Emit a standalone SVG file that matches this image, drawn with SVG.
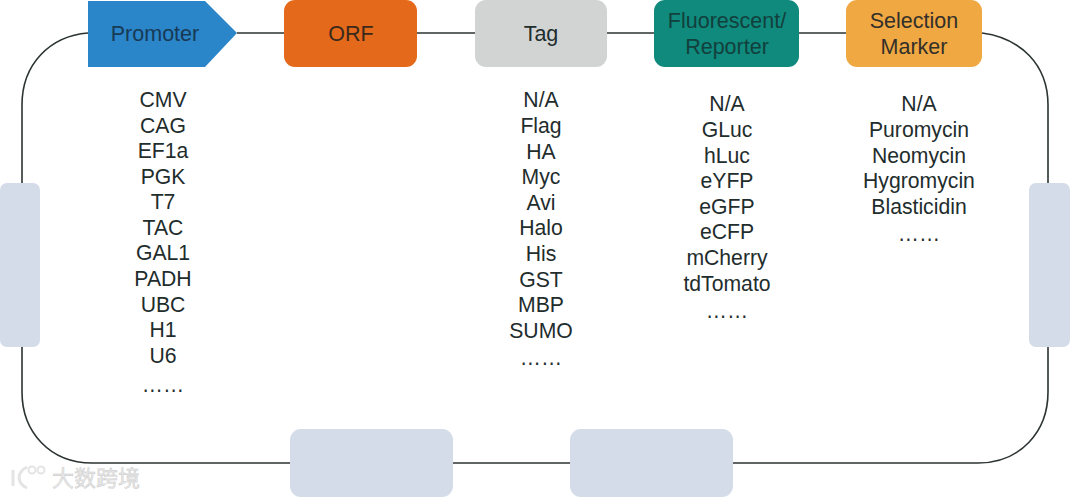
<svg xmlns="http://www.w3.org/2000/svg" width="1070" height="497" viewBox="0 0 1070 497">
<style>
text{font-family:"Liberation Sans",Arial,sans-serif;fill:#1f2d2d;text-anchor:middle}
.h{font-size:21.5px}
.l{font-size:21.2px}
.g{fill:#d3dce8}
.c{fill:none;stroke:#2b3333;stroke-width:1.6}
.w{font-family:"Noto Sans CJK SC",sans-serif;font-size:22px;fill:#e9e9e9;stroke:#c4c4c4;stroke-width:.4;text-anchor:start}
</style>
<rect width="1070" height="497" fill="#fff"/>
<g id="connectors">
<path class="c" d="M88 33C50 36 22 64 22 105V184"/>
<path class="c" d="M237 33H284"/>
<path class="c" d="M417 33H475"/>
<path class="c" d="M607 33H655"/>
<path class="c" d="M799 33H846"/>
<path class="c" d="M982 33C1020 38 1048 64 1048 105V184"/>
<path class="c" d="M22 346V392C22 432 50 463 92 463H291"/>
<path class="c" d="M453 463H571"/>
<path class="c" d="M733 463H978C1020 463 1048 432 1048 392V346"/>
</g>
<g id="promoter"><path d="M88 1H205L237 33L205 67H88Z" fill="#2b85c9"/><text class="h" x="155" y="41" style="fill:#173a55">Promoter</text></g>
<g id="orf"><rect x="284" y="0" width="133" height="67" rx="11" fill="#e5691b"/><text class="h" x="351" y="41" style="fill:#3a2a1c">ORF</text></g>
<g id="tag"><rect x="475" y="0" width="132" height="67" rx="11" fill="#d2d4d3"/><text class="h" x="541" y="41">Tag</text></g>
<g id="reporter"><rect x="654" y="0" width="145" height="67" rx="11" fill="#0f8a7d"/><text class="h" x="727" y="28" style="fill:#12403c">Fluorescent/</text><text class="h" x="727" y="54" style="fill:#12403c">Reporter</text></g>
<g id="marker"><rect x="846" y="0" width="136" height="67" rx="11" fill="#f0a842"/><text class="h" x="914" y="28" style="fill:#33302a">Selection</text><text class="h" x="914" y="54" style="fill:#33302a">Marker</text></g>
<g id="blank-left"><rect class="g" x="0" y="183" width="40" height="164" rx="7"/></g>
<g id="blank-right"><rect class="g" x="1029" y="183" width="41" height="164" rx="7"/></g>
<g id="blank-bottom-1"><rect class="g" x="290" y="429" width="163" height="68" rx="11"/></g>
<g id="blank-bottom-2"><rect class="g" x="570" y="429" width="163" height="68" rx="11"/></g>
<g id="promoter-list" class="l">
<text x="163" y="107">CMV</text><text x="163" y="133">CAG</text><text x="163" y="158">EF1a</text><text x="163" y="184">PGK</text><text x="163" y="209">T7</text><text x="163" y="235">TAC</text><text x="163" y="260">GAL1</text><text x="163" y="286">PADH</text><text x="163" y="312">UBC</text><text x="163" y="337">H1</text><text x="163" y="363">U6</text><text x="163" y="392">……</text>
</g>
<g id="tag-list" class="l">
<text x="541" y="107">N/A</text><text x="541" y="133">Flag</text><text x="541" y="159">HA</text><text x="541" y="184">Myc</text><text x="541" y="210">Avi</text><text x="541" y="235">Halo</text><text x="541" y="261">His</text><text x="541" y="287">GST</text><text x="541" y="312">MBP</text><text x="541" y="338">SUMO</text><text x="541" y="365">……</text>
</g>
<g id="reporter-list" class="l">
<text x="727" y="111">N/A</text><text x="727" y="137">GLuc</text><text x="727" y="163">hLuc</text><text x="727" y="188">eYFP</text><text x="727" y="214">eGFP</text><text x="727" y="239">eCFP</text><text x="727" y="265">mCherry</text><text x="727" y="291">tdTomato</text><text x="727" y="318">……</text>
</g>
<g id="marker-list" class="l">
<text x="919" y="111">N/A</text><text x="919" y="137">Puromycin</text><text x="919" y="163">Neomycin</text><text x="919" y="188">Hygromycin</text><text x="919" y="214">Blasticidin</text><text x="919" y="241">……</text>
</g>
<g id="watermark"><path d="M13 470V486M27 467C17 472 16 483 27 488" fill="none" stroke="#e4e4e4" stroke-width="3"/><circle cx="32" cy="470" r="3.5" fill="none" stroke="#e4e4e4" stroke-width="2"/><circle cx="41" cy="470" r="3.5" fill="none" stroke="#e4e4e4" stroke-width="2"/><text class="w" x="52" y="486">大数跨境</text></g>
</svg>
